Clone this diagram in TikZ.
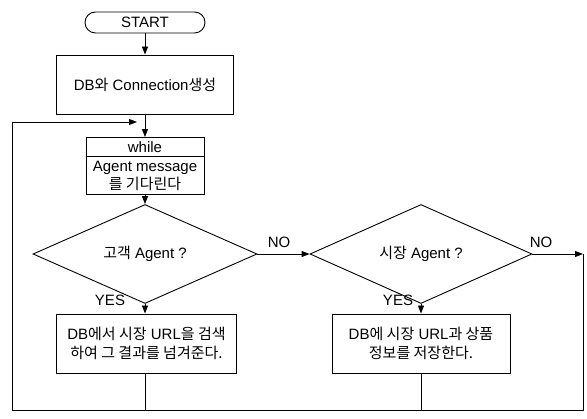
\documentclass[tikz,border=0pt]{standalone}
\usepackage{fontspec}
\setmainfont{Liberation Sans}
\newfontfamily\kr{Noto Sans CJK KR}
\usetikzlibrary{shapes.geometric,arrows.meta}
\begin{document}
\begin{tikzpicture}[x=1pt,y=-1pt, line width=0.9pt,
  >={Triangle[length=8pt,width=6pt]},
  every node/.style={font=\fontsize{15}{19}\selectfont},
  box/.style={draw, rectangle, inner sep=0pt, align=center},
  term/.style={draw, rectangle, rounded corners=10.5pt, inner sep=0pt},
  dec/.style={draw, diamond, inner sep=0pt},
  lbl/.style={inner sep=0pt}]
\useasboundingbox (0,0) rectangle (587,419);

\node[term, minimum width=120pt, minimum height=21pt] (start) at (145,22.5) {START};
\node[box, minimum width=177pt, minimum height=59pt] (conn) at (145,84.5) {DB{\kr 와} Connection{\kr 생성}};
\node[box, minimum width=118pt, minimum height=19pt] (whead) at (145,147) {while};
\node[box, minimum width=118pt, minimum height=38pt, font=\fontsize{15}{18}\selectfont] (wait) at (145,175.5) {Agent message\\{\kr 를 기다린다}};
\node[dec, minimum width=224pt, minimum height=73pt] (d1) at (145,254) {{\kr 고객} Agent ?};
\node[box, minimum width=180pt, minimum height=59pt] (b2) at (146.5,343.5) {DB{\kr 에서 시장} URL{\kr 을 검색}\\{\kr 하여 그 결과를 넘겨준다.}};
\node[dec, minimum width=222pt, minimum height=75pt] (d2) at (421,254) {{\kr 시장} Agent ?};
\node[box, minimum width=178pt, minimum height=59pt] (b3) at (421,343.5) {DB{\kr 에 시장} URL{\kr 과 상품}\\{\kr 정보를 저장한다.}};

\node[lbl] (no1) at (279,242) {NO};
\node[lbl] (yes1) at (110,300) {YES};
\node[lbl] (no2) at (541,242) {NO};
\node[lbl] (yes2) at (398,300) {YES};

\coordinate (bl) at (12,410);
\coordinate (tl) at (12,122);
\coordinate (tin) at (137,122);
\coordinate (br) at (583,410);
\coordinate (rr) at (583,254);
\coordinate (b2b) at (145,410);
\coordinate (b3b) at (421,410);

\draw[->] (start) -- (conn);
\draw[->] (conn.south -| whead.north) -- (whead);
\draw[->] (wait) -- (d1);
\draw[->] (d1.south) -- (d1.south |- b2.north);
\draw[->] (d1.east) -- (d2.west);
\draw[->] (d2) -- (b3);
\draw[->] (d2.east) -- (rr);
\draw (rr) -- (br) -- (bl) -- (tl);
\draw[->] (tl) -- (tin);
\draw (b2.south -| d1.south) -- (b2b);
\draw (b3) -- (b3b);
\end{tikzpicture}
\end{document}
